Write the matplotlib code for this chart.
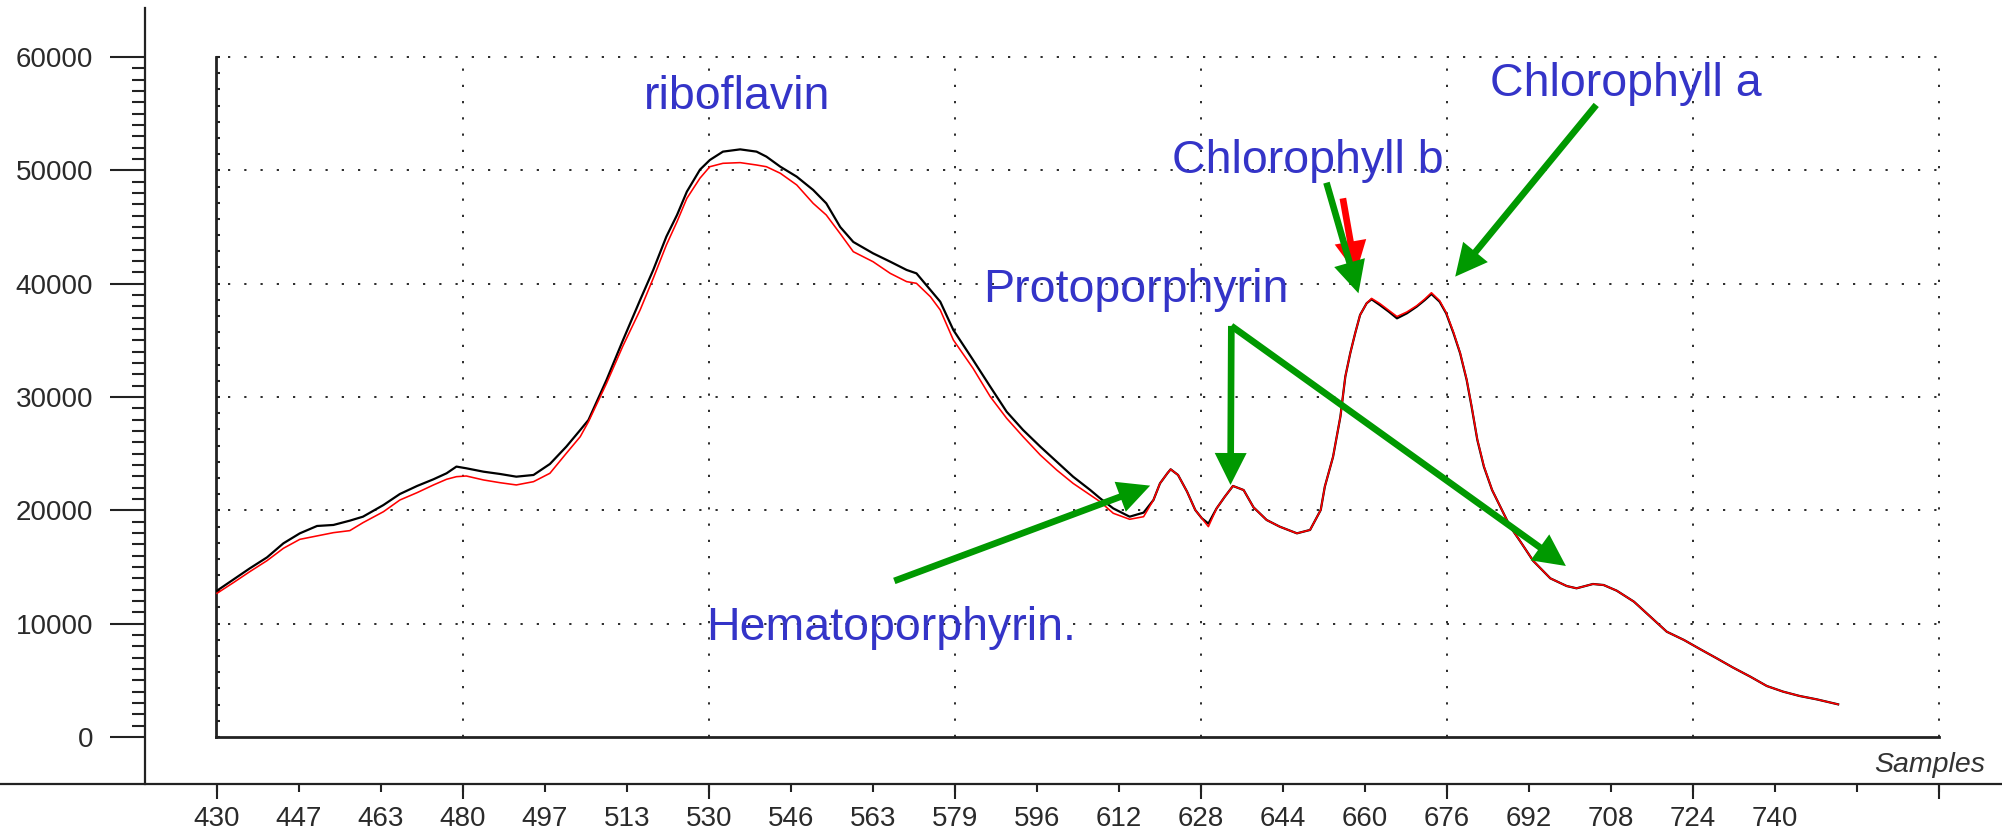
import numpy as np
import matplotlib
matplotlib.use("Agg")
import matplotlib.pyplot as plt
from matplotlib.patches import FancyArrowPatch, ArrowStyle

plt.rcParams['font.family'] = ['Liberation Sans', 'DejaVu Sans']
plt.rcParams['lines.scale_dashes'] = False

# ---------------- data ----------------
tick_labels = ['430', '447', '463', '480', '497', '513', '530', '546', '563', '579',
               '596', '612', '628', '644', '660', '676', '692', '708', '724', '740', '', '']

# positions are in units of the (evenly spaced) sample ticks
pos = [0.00, 0.20, 0.40, 0.61, 0.81, 1.01, 1.22, 1.42, 1.62, 1.78, 2.03, 2.23, 2.44, 2.64,
       2.80, 2.92, 3.04, 3.25, 3.45, 3.65, 3.86, 4.06, 4.26, 4.43, 4.53, 4.75, 4.95, 5.16,
       5.32, 5.48, 5.61, 5.73, 5.89, 6.01, 6.17, 6.38, 6.58, 6.70, 6.87, 7.07, 7.27, 7.43,
       7.60, 7.76, 8.00, 8.21, 8.41, 8.53, 8.70, 8.82, 8.98, 9.22, 9.43, 9.63, 9.83, 10.04,
       10.24, 10.44, 10.65, 10.77, 10.93, 11.13, 11.30, 11.42, 11.50, 11.59, 11.63, 11.72,
       11.83, 11.93, 12.01, 12.09, 12.19, 12.29, 12.39, 12.52, 12.64, 12.80, 12.96, 13.17,
       13.33, 13.46, 13.51, 13.61, 13.70, 13.76, 13.82, 13.88, 13.94, 14.02, 14.08, 14.18,
       14.29, 14.39, 14.51, 14.63, 14.73, 14.81, 14.91, 14.99, 15.08, 15.16, 15.24, 15.30,
       15.37, 15.45, 15.55, 15.65, 15.77, 15.89, 16.05, 16.26, 16.46, 16.58, 16.78, 16.91,
       17.07, 17.28, 17.48, 17.68, 17.89, 18.09, 18.29, 18.49, 18.70, 18.90, 19.10, 19.30,
       19.51, 19.77]

black_vals = [12910, 13900, 14880, 15850, 17090, 17970, 18620, 18710, 19090, 19440, 20470,
              21440, 22150, 22740, 23270, 23860, 23710, 23410, 23210, 22970, 23120, 24090,
              25620, 27090, 27970, 31500, 35000, 38560, 41210, 44150, 46060, 48120, 50060,
              50910, 51650, 51850, 51650, 51210, 50320, 49440, 48270, 47090, 45000, 43680,
              42680, 41940, 41210, 40910, 39440, 38410, 35910, 33270, 30910, 28700, 27090,
              25620, 24290, 22970, 21790, 21060, 20170, 19440, 19800, 20910, 22380, 23270,
              23620, 23120, 21650, 20030, 19300, 18830, 20170, 21200, 22150, 21790, 20270,
              19150, 18560, 17970, 18270, 20030, 22090, 24710, 28270, 31800, 33860, 35620,
              37240, 38270, 38620, 38120, 37530, 36940, 37380, 37970, 38560, 39090, 38410,
              37380, 35620, 33860, 31500, 29150, 26210, 23850, 21790, 20320, 18560, 17300,
              15550, 14000, 13320, 13120, 13500, 13410, 12910, 11940, 10620, 9290, 8560,
              7740, 6940, 6120, 5320, 4500, 4000, 3620, 3320, 2880]

red_vals = [12680, 13620, 14590, 15560, 16650, 17440, 17740, 18030, 18210, 18910, 19880,
            20910, 21560, 22240, 22740, 22970, 23030, 22680, 22440, 22240, 22530, 23270,
            25030, 26500, 27820, 31200, 34500, 37680, 40470, 43410, 45470, 47530, 49310,
            50320, 50620, 50680, 50470, 50320, 49740, 48710, 47090, 46060, 44410, 42820,
            41940, 40910, 40180, 40030, 38850, 37680, 35030, 32530, 30030, 28120, 26500,
            24880, 23560, 22380, 21350, 20760, 19740, 19210, 19440, 20910, 22380, 23270,
            23620, 23120, 21650, 20030, 19300, 18560, 20170, 21200, 22150, 21790, 20270,
            19150, 18560, 17970, 18270, 20030, 22090, 24710, 28270, 31800, 33860, 35620,
            37240, 38270, 38700, 38250, 37650, 37100, 37500, 38050, 38650, 39200, 38500,
            37450, 35700, 33900, 31550, 29200, 26250, 23900, 21800, 20320, 18560, 17300,
            15550, 14000, 13320, 13120, 13500, 13410, 12910, 11940, 10620, 9290, 8560,
            7740, 6940, 6120, 5320, 4500, 4000, 3620, 3320, 2880]

# annotation labels: (text, left px, baseline px)
labels = [("riboflavin", 644, 109),
          ("Chlorophyll a", 1490, 96),
          ("Chlorophyll b", 1172, 173),
          ("Protoporphyrin", 983, 302),
          ("Hematoporphyrin.", 706, 640)]

# arrows in data coordinates: (x0, y0, x1, y1, colour)
arrows = [(13.73, 47530, 13.89, 40920, '#ff0000'),
          (13.53, 48910, 13.92, 39150, '#009900'),
          (16.82, 55770, 15.10, 40620, '#009900'),
          (8.26, 13770, 11.38, 22180, '#009900'),
          (12.37, 36270, 12.36, 22240, '#009900'),
          (12.37, 36270, 16.45, 15090, '#009900')]

# ---------------- layout (pixels of a 2002 x 831 figure) ----------------
W, H = 2002, 831
X0PX, DXPX = 217.0, 82.0          # pixel of first tick and tick spacing
Y0PX, Y60PX = 737.0, 57.0         # pixel of 0 and 60000
PPV = (Y0PX - Y60PX) / 60000.0    # pixels per unit value

fig = plt.figure(figsize=(W / 100, H / 100), dpi=100)

# outer axis frame
OB, OT = 784.0, 8.0
ax_o = fig.add_axes([0, (H - OB) / H, 1, (OB - OT) / H])
ax_o.set_xlim((0 - X0PX) / DXPX, (W - X0PX) / DXPX)
ax_o.set_ylim((Y0PX - OB) / PPV, (Y0PX - OT) / PPV)
ax_o.patch.set_alpha(0)
for s in ['top', 'right']:
    ax_o.spines[s].set_visible(False)
ax_o.spines['left'].set_position(('axes', 145.0 / W))
for s in ['left', 'bottom']:
    ax_o.spines[s].set_linewidth(1.6)
    ax_o.spines[s].set_color('#222222')

ax_o.set_yticks(np.arange(0, 60001, 10000))
ax_o.set_yticklabels([str(v) for v in range(0, 60001, 10000)])
ax_o.set_yticks(np.arange(0, 60001, 1000), minor=True)
ax_o.tick_params(axis='y', which='major', direction='out', length=25.2, width=1.5,
                 pad=12, labelsize=20, colors='#222222', labelcolor='#2a2a2a')
ax_o.tick_params(axis='y', which='minor', direction='out', length=9.4, width=1.5,
                 colors='#222222')

ax_o.xaxis.remove_overlapping_locs = False
ax_o.set_xticks(np.arange(len(tick_labels)))
ax_o.set_xticklabels(tick_labels)
ax_o.set_xticks(np.arange(0, len(tick_labels), 3), minor=True)
ax_o.tick_params(axis='x', which='major', direction='out', length=5.8, width=1.5,
                 pad=10, labelsize=20, colors='#222222', labelcolor='#2a2a2a')
ax_o.tick_params(axis='x', which='minor', direction='out', length=10.8, width=1.5,
                 colors='#222222')

# inner plotting box
ax = fig.add_axes([216.0 / W, (H - Y0PX) / H, (1939.0 - 216.0) / W, (Y0PX - Y60PX) / H])
ax.set_xlim((216.0 - X0PX) / DXPX, 21.0)
ax.set_ylim(0, 60000)
ax.patch.set_alpha(0)
for s in ['top', 'right']:
    ax.spines[s].set_visible(False)
for s in ['left', 'bottom']:
    ax.spines[s].set_linewidth(2.0)
    ax.spines[s].set_color('#222222')
ax.set_xticks([])
ax.set_yticks(np.linspace(0, 60000, 43))
ax.set_yticklabels([])
ax.tick_params(axis='y', which='major', direction='in', length=2.8, width=1.5,
               colors='#222222')

dot = dict(color='#2a2a2a', lw=1.4, linestyle=(0, (1.6, 10.1)), clip_on=False, zorder=1)
for v in range(10000, 60001, 10000):
    ax.axhline(v, xmin=12.0 / 1723, xmax=1.0, **dot)
for p in range(3, 22, 3):
    ax.axvline(p, ymin=0, ymax=1.0, **dot)

ax.plot(pos, black_vals, color='black', lw=1.6, zorder=3)
ax.plot(pos, red_vals, color='#ff0000', lw=1.15, zorder=4)

for (x0, y0, x1, y1, c) in arrows:
    st = ArrowStyle.Simple(head_length=23, head_width=23, tail_width=4.8)
    a = FancyArrowPatch((x0, y0), (x1, y1), arrowstyle=st, mutation_scale=1,
                        color=c, lw=0, shrinkA=0, shrinkB=0, clip_on=False, zorder=5)
    ax.add_patch(a)

for (t, px, py) in labels:
    fig.text(px / W, 1 - py / H, t, fontsize=33.5, color='#3434c8',
             ha='left', va='baseline')

fig.text(1874.0 / W, 1 - 772.0 / H, 'Samples', fontsize=20.5, style='italic',
         color='#333333', ha='left', va='baseline')

fig.savefig('out.png', dpi=100)
